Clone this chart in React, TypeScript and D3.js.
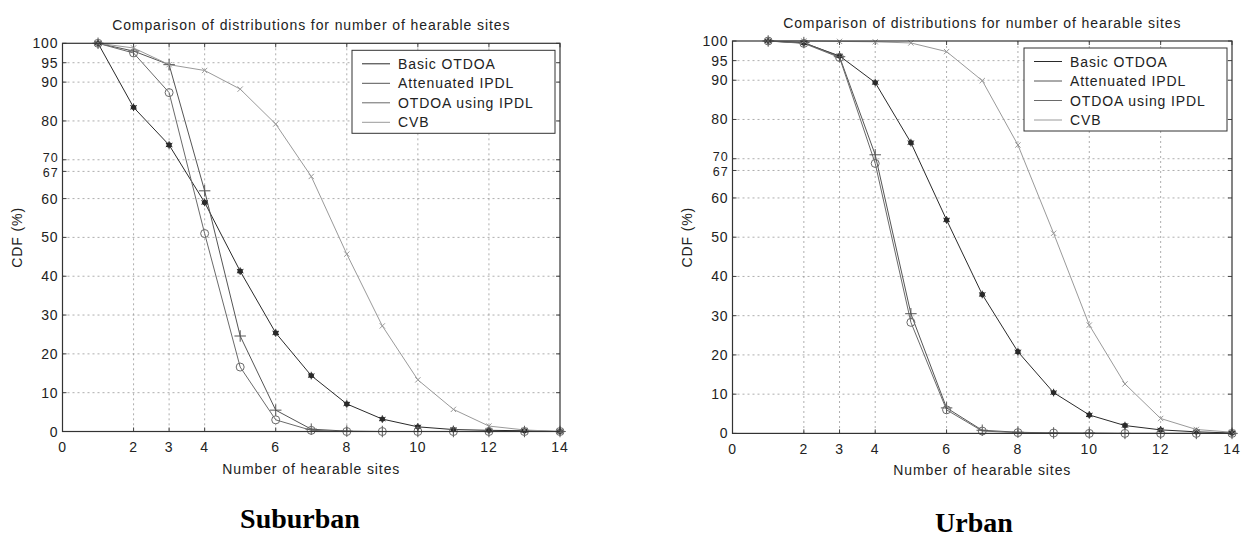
import React from "react";
import * as d3 from "d3";

const sites = [1, 2, 3, 4, 5, 6, 7, 8, 9, 10, 11, 12, 13, 14];
const xTicks = [0, 2, 3, 4, 6, 8, 10, 12, 14];
const yTicks = [0, 10, 20, 30, 40, 50, 60, 67, 70, 80, 90, 95, 100];
const seriesNames = ["Basic OTDOA", "Attenuated IPDL", "OTDOA using IPDL", "CVB"];

// Suburban CDF values (%)
const suburbanBasic = [100, 83.5, 73.8, 59, 41.3, 25.4, 14.4, 7.1, 3.2, 1.2, 0.5, 0.3, 0.2, 0];
const suburbanAttenuated = [100, 98, 94.5, 62, 24.6, 5.5, 0.6, 0.1, 0, 0, 0, 0, 0, 0];
const suburbanIpdl = [100, 97.5, 87.3, 51, 16.6, 3, 0.3, 0, 0, 0, 0, 0, 0, 0];
const suburbanCvb = [100, 98.8, 94.5, 93, 88.2, 79.2, 65.7, 45.7, 27.2, 13.3, 5.7, 1.4, 0.4, 0];

// Urban CDF values (%)
const urbanBasic = [100, 99.5, 96.2, 89.4, 74.1, 54.4, 35.4, 20.8, 10.4, 4.7, 2, 0.9, 0.4, 0.1];
const urbanAttenuated = [100, 99.6, 96, 71, 30.5, 6.5, 0.8, 0.3, 0.1, 0.1, 0, 0, 0, 0];
const urbanIpdl = [100, 99.4, 95.8, 68.8, 28.3, 6, 0.6, 0.2, 0.1, 0, 0, 0, 0, 0];
const urbanCvb = [100, 100, 99.9, 99.8, 99.5, 97.3, 89.9, 73.5, 51, 27.6, 12.6, 3.8, 1, 0.3];

const colors = ["#2a2a2a", "#555", "#6a6a6a", "#9a9a9a"];
const font = "'Liberation Sans', Arial, sans-serif";
const fs = 14;
const ls = 0.9;

type PanelProps = {
  left: number;
  right: number;
  top: number;
  bottom: number;
  series: number[][];
  caption: string;
  captionX: number;
  captionY: number;
};

function Marker({ kind, x, y, color }: { kind: number; x: number; y: number; color: string }) {
  if (kind === 0) {
    const star = d3.symbol(d3.symbolAsterisk, 40)()!;
    return (
      <g transform={`translate(${x},${y})`}>
        <circle r={2.7} fill={color} />
        <path d={star} fill="none" stroke={color} strokeWidth={1} />
      </g>
    );
  }
  if (kind === 1) {
    const plus = d3.symbol(d3.symbolPlus, 45)()!;
    return <path transform={`translate(${x},${y})`} d={plus} fill="none" stroke={color} strokeWidth={1} />;
  }
  if (kind === 2) {
    return <circle cx={x} cy={y} r={4} fill="none" stroke={color} strokeWidth={1} />;
  }
  const times = d3.symbol(d3.symbolTimes, 20)()!;
  return <path transform={`translate(${x},${y})`} d={times} fill="none" stroke={color} strokeWidth={1} />;
}

// the 67 and 70 labels sit very close: squeeze them a little
const labelShift = (t: number) => (t === 70 ? -1.5 : t === 67 ? 1.5 : 0);
const labelSize = (t: number) => (t === 70 || t === 67 ? 12.5 : fs);

function Panel({ left, right, top, bottom, series, caption, captionX, captionY }: PanelProps) {
  const x = d3.scaleLinear().domain([0, 14]).range([left, right]);
  const y = d3.scaleLinear().domain([0, 100]).range([bottom, top]);
  const line = d3
    .line<number>()
    .x((_, i) => x(sites[i]))
    .y((d) => y(d));
  const cx = (left + right) / 2;
  const legW = 203;
  const legX = right - 5 - legW;
  const legY = top + 7;

  return (
    <g fontFamily={font} letterSpacing={ls}>
      <rect x={left} y={top} width={right - left} height={bottom - top} fill="white" />
      {/* grid */}
      {xTicks.slice(1, -1).map((t) => (
        <line key={"gx" + t} x1={x(t)} x2={x(t)} y1={top} y2={bottom} stroke="#999" strokeWidth={0.8} strokeDasharray="2,3" />
      ))}
      {yTicks.slice(1, -1).map((t) => (
        <line key={"gy" + t} x1={left} x2={right} y1={y(t)} y2={y(t)} stroke="#999" strokeWidth={0.8} strokeDasharray="2,3" />
      ))}
      {/* ticks (inside, on all four edges) */}
      {xTicks.map((t) => (
        <g key={"tx" + t}>
          <line x1={x(t)} x2={x(t)} y1={bottom} y2={bottom - 4} stroke="#444" />
          <line x1={x(t)} x2={x(t)} y1={top} y2={top + 4} stroke="#444" />
          <text x={x(t)} y={bottom + 20.5} fontSize={fs} textAnchor="middle" fill="#222">
            {t}
          </text>
        </g>
      ))}
      {yTicks.map((t) => (
        <g key={"ty" + t}>
          <line x1={left} x2={left + 4} y1={y(t)} y2={y(t)} stroke="#444" />
          <line x1={right} x2={right - 4} y1={y(t)} y2={y(t)} stroke="#444" />
          <text
            x={left - 4}
            y={y(t) + labelShift(t)}
            dominantBaseline="central"
            fontSize={labelSize(t)}
            textAnchor="end"
            fill="#222"
          >
            {t}
          </text>
        </g>
      ))}
      {/* series */}
      {series.map((s, k) => (
        <path key={"l" + k} d={line(s)!} fill="none" stroke={colors[k]} strokeWidth={1} />
      ))}
      {series.map((s, k) =>
        s.map((v, i) => <Marker key={`m${k}-${i}`} kind={k} x={x(sites[i])} y={y(v)} color={colors[k]} />)
      )}
      <rect x={left} y={top} width={right - left} height={bottom - top} fill="none" stroke="#333" strokeWidth={1.2} />
      {/* legend */}
      <rect x={legX} y={legY} width={legW} height={83} fill="white" stroke="#333" strokeWidth={1} />
      {seriesNames.map((n, k) => (
        <g key={"lg" + k}>
          <line x1={legX + 10} x2={legX + 38} y1={legY + 13.5 + k * 19.5} y2={legY + 13.5 + k * 19.5} stroke={colors[k]} strokeWidth={1} />
          <text x={legX + 46} y={legY + 18.5 + k * 19.5} fontSize={fs} fill="#222">
            {n}
          </text>
        </g>
      ))}
      {/* titles */}
      <text x={cx} y={top - 13} fontSize={fs} textAnchor="middle" fill="#222">
        Comparison of distributions for number of hearable sites
      </text>
      <text x={cx} y={bottom + 42} fontSize={fs} textAnchor="middle" fill="#222">
        Number of hearable sites
      </text>
      <text
        transform={`translate(${left - 41},${(top + bottom) / 2}) rotate(-90)`}
        fontSize={fs}
        textAnchor="middle"
        fill="#222"
      >
        CDF (%)
      </text>
      <text
        x={captionX}
        y={captionY}
        fontSize={28}
        fontWeight="bold"
        letterSpacing={0}
        textAnchor="middle"
        fontFamily="'Liberation Serif', 'Times New Roman', serif"
        fill="#000"
      >
        {caption}
      </text>
    </g>
  );
}

export default function App() {
  return (
    <svg width={1243} height={540} style={{ position: "absolute", left: 0, top: 0, background: "white" }}>
      <rect width={1243} height={540} fill="white" />
      <Panel
        left={62.5}
        right={560}
        top={43.3}
        bottom={431.5}
        series={[suburbanBasic, suburbanAttenuated, suburbanIpdl, suburbanCvb]}
        caption="Suburban"
        captionX={300}
        captionY={528}
      />
      <Panel
        left={732.5}
        right={1232}
        top={41}
        bottom={433.4}
        series={[urbanBasic, urbanAttenuated, urbanIpdl, urbanCvb]}
        caption="Urban"
        captionX={974}
        captionY={532}
      />
    </svg>
  );
}
